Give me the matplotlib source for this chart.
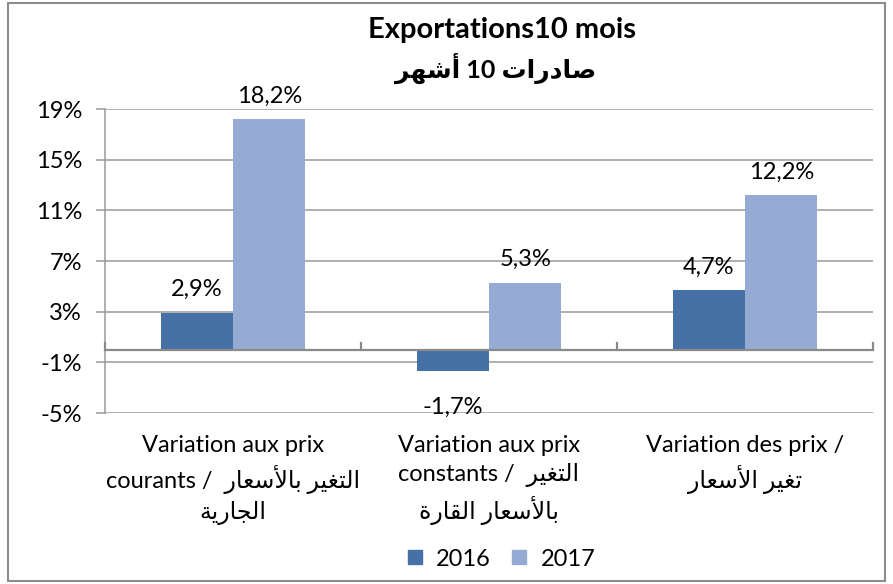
import numpy as np
import matplotlib
matplotlib.use("Agg")
import matplotlib.pyplot as plt
from matplotlib.patches import Rectangle
from matplotlib.lines import Line2D

# --- data -------------------------------------------------------------
series_names = ["2016", "2017"]
values_2016 = [2.9, -1.7, 4.7]
values_2017 = [18.2, 5.3, 12.2]
y_ticks = [-5, -1, 3, 7, 11, 15, 19]

# --- minimal arabic shaping (matplotlib has no bidi / joining) --------
FORMS = {  # isolated, final, initial, medial
    "ا": ("\uFE8D", "\uFE8E", None, None),
    "أ": ("\uFE83", "\uFE84", None, None),
    "ب": ("\uFE8F", "\uFE90", "\uFE91", "\uFE92"),
    "ت": ("\uFE95", "\uFE96", "\uFE97", "\uFE98"),
    "ة": ("\uFE93", "\uFE94", None, None),
    "ج": ("\uFE9D", "\uFE9E", "\uFE9F", "\uFEA0"),
    "د": ("\uFEA9", "\uFEAA", None, None),
    "ر": ("\uFEAD", "\uFEAE", None, None),
    "س": ("\uFEB1", "\uFEB2", "\uFEB3", "\uFEB4"),
    "ش": ("\uFEB5", "\uFEB6", "\uFEB7", "\uFEB8"),
    "ص": ("\uFEB9", "\uFEBA", "\uFEBB", "\uFEBC"),
    "ع": ("\uFEC9", "\uFECA", "\uFECB", "\uFECC"),
    "غ": ("\uFECD", "\uFECE", "\uFECF", "\uFED0"),
    "ق": ("\uFED5", "\uFED6", "\uFED7", "\uFED8"),
    "ل": ("\uFEDD", "\uFEDE", "\uFEDF", "\uFEE0"),
    "ه": ("\uFEE9", "\uFEEA", "\uFEEB", "\uFEEC"),
    "ي": ("\uFEF1", "\uFEF2", "\uFEF3", "\uFEF4"),
    "لأ": ("\uFEF7", "\uFEF8", None, None),
    "لا": ("\uFEFB", "\uFEFC", None, None),
}


def shape_word(word):
    # merge lam-alef
    units = []
    i = 0
    while i < len(word):
        if word[i] == "ل" and i + 1 < len(word) and word[i + 1] in "اأ":
            units.append(word[i:i + 2])
            i += 2
        else:
            units.append(word[i])
            i += 1
    out = []
    for k, u in enumerate(units):
        f = FORMS.get(u)
        if f is None:
            out.append(u)
            continue
        prev = FORMS.get(units[k - 1]) if k > 0 else None
        nxt = FORMS.get(units[k + 1]) if k + 1 < len(units) else None
        join_prev = prev is not None and prev[2] is not None
        join_next = nxt is not None and f[2] is not None
        if join_prev and join_next:
            out.append(f[3])
        elif join_prev:
            out.append(f[1])
        elif join_next:
            out.append(f[2])
        else:
            out.append(f[0])
    return "".join(out)


def ar(text):
    # shape each word, then lay the line out right to left
    words = text.split(" ")
    shaped = [w if w.isdigit() else shape_word(w)[::-1] for w in words]
    return " ".join(shaped[::-1])


categories = [
    "Variation aux prix\ncourants /  " + ar("التغير بالأسعار") + "\n" + ar("الجارية"),
    "Variation aux prix\nconstants /  " + ar("التغير") + "\n" + ar("بالأسعار القارة"),
    "Variation des prix /\n" + ar("تغير الأسعار"),
]
title_fr = "Exportations10 mois"
title_ar = ar("صادرات 10 أشهر")

# --- style -------------------------------------------------------------
plt.rcParams["font.family"] = ["Lato", "DejaVu Sans"]
c16 = "#4571A6"
c17 = "#95ABD4"
grid_c = "#9a9a9a"
fs = 17

fig = plt.figure(figsize=(8.93, 5.84), dpi=100)
ax = fig.add_axes([105 / 893, 1 - 413 / 584, (873 - 105) / 893, (413 - 109) / 584])

x = np.arange(len(categories))
w = 0.283
ax.bar(x - w / 2, values_2016, w, color=c16, zorder=3)
ax.bar(x + w / 2, values_2017, w, color=c17, zorder=3)

for xi, v in zip(x - w / 2, values_2016):
    off = 1.0 if v >= 0 else -2.0
    ax.text(xi, v + off, f"{v:.1f}%".replace(".", ","), ha="center",
            va="bottom" if v >= 0 else "top", fontsize=fs)
for xi, v in zip(x + w / 2, values_2017):
    ax.text(xi, v + 1.0, f"{v:.1f}%".replace(".", ","), ha="center",
            va="bottom", fontsize=fs)

ax.set_xlim(-0.5, len(categories) - 0.5)
ax.set_ylim(-5, 19)
ax.set_yticks(y_ticks)
ax.set_yticklabels([f"{t}%" for t in y_ticks], fontsize=fs)
ax.grid(axis="y", color=grid_c, lw=1.1, zorder=0)
ax.set_xticks([])
for s in ["top", "right", "bottom"]:
    ax.spines[s].set_visible(False)
ax.spines["left"].set_color(grid_c)
ax.spines["left"].set_linewidth(1.1)
ax.tick_params(axis="y", length=6.5, color=grid_c, width=1.1, pad=10)

# category axis at zero with upward tick marks at group boundaries
ax.axhline(0, color="#8a8a8a", lw=1.6, zorder=4)
for b in np.arange(-0.5, len(categories), 1.0):
    ax.plot([b, b], [0, 0.55], color="#8a8a8a", lw=1.6, zorder=4, clip_on=False)

for xi, lab in zip(x, categories):
    ax.text(xi, -0.072, lab, transform=ax.get_xaxis_transform(), ha="center",
            va="top", fontsize=fs, linespacing=1.4)

fig.text(502 / 893, 1 - 30 / 584, title_fr, ha="center", va="center", fontsize=21,
         fontweight="bold")
fig.text(496 / 893, 1 - 68 / 584, title_ar, ha="center", va="center", fontsize=18,
         fontweight="bold")

handles = [Line2D([], [], ls="", marker="s", ms=10, color=c16),
           Line2D([], [], ls="", marker="s", ms=10, color=c17)]
fig.legend(handles, series_names, loc="center", bbox_to_anchor=(498 / 893, 1 - 559 / 584),
           ncol=2, frameon=False, fontsize=fs, handletextpad=0.3, columnspacing=0.6,
           handlelength=1.2)

fig.add_artist(Rectangle((8 / 893, 3 / 584), 877 / 893, 578 / 584, transform=fig.transFigure,
                         fill=False, edgecolor="#8c8c8c", lw=1.5))

fig.savefig("out.png", dpi=100)
